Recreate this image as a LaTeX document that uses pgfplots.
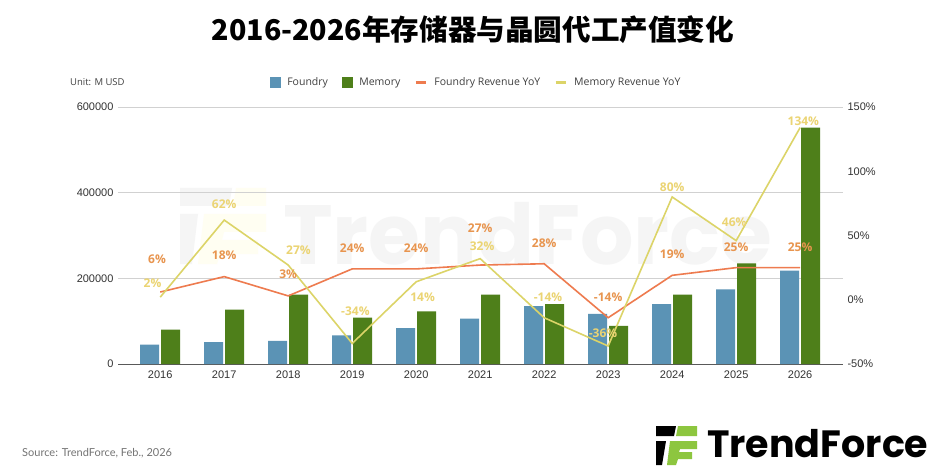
\documentclass[border=0pt]{standalone}
\usepackage{fontspec}
\setmainfont{Open Sans}
\newfontfamily\cjk{Noto Sans CJK SC}
\newfontfamily\lib{Liberation Sans}
\newfontfamily\pop{Poppins}
\newfontfamily\lato{Lato}
\usepackage{pgfplots}
\usepackage{pgfplotstable}
\pgfplotsset{compat=1.18}
\definecolor{fblue}{HTML}{5B93B5}
\definecolor{mgreen}{HTML}{4E7F1A}
\definecolor{fline}{HTML}{EE7B4F}
\definecolor{mline}{HTML}{DCD468}
\definecolor{flab}{HTML}{E8954F}
\definecolor{mlab}{HTML}{EBD473}
\definecolor{logogreen}{HTML}{8DC63F}

\pgfplotstableread{
x f m
0 45000 80000
1 51000 127000
2 54000 162000
3 67000 108000
4 84000 123000
5 106000 162000
6 135000 140000
7 117000 89000
8 140000 162000
9 174000 235000
10 218000 552000
}\bars

\pgfplotstableread{
x f m
0 6 2
1 18 62
2 3 27
3 24 -34
4 24 14
5 27 32
6 28 -14
7 -14 -36
8 19 80
9 25 46
10 25 134
}\yoy

\pgfplotstableread{
x y lab
-0.05 31.9 6
1 34.5 18
2 19.5 3
3 40.5 24
4 40.5 24
5 56 27
6 44.3 28
7 2.3 -14
8 35.8 19
9 41.2 25
10 41.2 25
}\flabels

\pgfplotstableread{
x y lab
-0.12 13.2 2
1 74.7 62
2.16 38.9 27
3.05 -9.3 -34
4.1 2.3 14
5.03 42 32
6.06 2.3 -14
6.92 -25.7 -36
8 87.9 80
8.97 60.7 46
10.05 139.3 134
}\mlabels

\begin{document}
\begin{tikzpicture}
\begin{scope}[x=1pt,y=1pt]
\path[use as bounding box, fill=white] (0,0) rectangle (940,472);
% title
\node[font=\cjk\bfseries\fontsize{28.6}{32}\selectfont, anchor=center, inner sep=0] at (473,442) {2016-2026年存储器与晶圆代工产值变化};
\node[font=\fontsize{9.5}{11}\selectfont, text=black!75, anchor=west, inner sep=0] at (70,390) {Unit: M USD};
% watermark
\node[font=\pop\bfseries\fontsize{84}{90}\selectfont, text=black!4, anchor=west, inner sep=0] at (283,238) {TrendForce};
\fill[black!4] (180,284) -- (232,284) -- (229,266) -- (180,266) -- cycle;
\fill[black!4] (180,258) -- (198,258) -- (192,208) -- (180,208) -- cycle;
\fill[yellow!5] (236,284) -- (266,284) -- (266,266) -- (233,266) -- cycle;
\fill[yellow!5] (204,258) -- (266,258) -- (266,240) -- (224,240) -- (222,232) -- (258,232) -- (258,218) -- (220,218) -- (217,208) -- (198,208) -- cycle;
% source
\node[font=\lato\fontsize{11}{13}\selectfont, text=black!55, anchor=west, inner sep=0] at (22,19) {Source: TrendForce, Feb., 2026};
% logo
\node[font=\pop\bfseries\fontsize{38}{40}\selectfont, anchor=base west, inner sep=0] at (707,15) {TrendForce};
\fill[black] (656,46) -- (676,46) -- (674,36) -- (656,36) -- cycle;
\fill[logogreen] (678,46) -- (697,46) -- (697,36) -- (676,36) -- cycle;
\fill[black] (656,31) -- (666,31) -- (662,7) -- (656,7) -- cycle;
\fill[logogreen] (670,31) -- (697,31) -- (697,23) -- (680,23) -- (679,20) -- (692,20) -- (692,13) -- (678,13) -- (676,7) -- (667,7) -- cycle;
\end{scope}

\begin{axis}[
 at={(118pt,108pt)}, anchor=south west, scale only axis, width=725pt, height=257pt,
 xmin=-0.66, xmax=10.67, ymin=0, ymax=600000,
 xtick={0,...,10}, xticklabels={2016,2017,2018,2019,2020,2021,2022,2023,2024,2025,2026},
 ytick={0,200000,400000,600000},
 scaled y ticks=false,
 yticklabel style={/pgf/number format/fixed, /pgf/number format/1000 sep={}, xshift=-1pt},
 xticklabel style={yshift=-3pt},
 axis x line*=bottom, axis y line*=left,
 x axis line style={black!65, line width=0.9pt},
 y axis line style={draw=none},
 major tick length=0,
 ymajorgrids, grid style={black!18, line width=0.8pt},
 tick label style={font=\lib\fontsize{11}{13}\selectfont, text=black!80},
 /pgf/number format/assume math mode=true,
 ybar, bar width=19pt,
]
\addplot[fill=fblue, draw=none, bar shift=-10.5pt] table[x=x,y=f]{\bars};
\addplot[fill=mgreen, draw=none, bar shift=10.5pt] table[x=x,y=m]{\bars};
\end{axis}

\begin{axis}[
 at={(118pt,108pt)}, anchor=south west, scale only axis, width=725pt, height=257pt,
 xmin=-0.66, xmax=10.67, ymin=-50, ymax=150,
 axis x line=none, axis y line*=right, y axis line style={draw=none},
 ytick={-50,0,50,100,150}, yticklabel={\pgfmathprintnumber{\tick}\%},
 major tick length=0,
 tick label style={font=\lib\fontsize{11}{13}\selectfont, text=black!80},
 yticklabel style={xshift=1pt},
 /pgf/number format/assume math mode=true,
 legend style={draw=none, fill=none, legend columns=4, at={(0.494,1.097)}, anchor=center,
   font=\fontsize{10.5}{12}\selectfont, text=black!75,
   /tikz/every odd column/.append style={column sep=5pt},
   /tikz/every even column/.append style={column sep=12pt}},
 legend cell align=left,
]
\addlegendimage{legend image code/.code={\fill[fblue] (0pt,-5pt) rectangle (10pt,5pt);}}
\addlegendentry{Foundry}
\addlegendimage{legend image code/.code={\fill[mgreen] (0pt,-5pt) rectangle (10pt,5pt);}}
\addlegendentry{Memory}
\addlegendimage{legend image code/.code={\draw[fline, line width=3pt] (0pt,0pt) -- (10pt,0pt);}}
\addlegendentry{Foundry Revenue YoY}
\addlegendimage{legend image code/.code={\draw[mline, line width=3pt] (0pt,0pt) -- (10pt,0pt);}}
\addlegendentry{Memory Revenue YoY}
\addplot[fline, line width=1.6pt, mark=none, forget plot] table[x=x,y=f]{\yoy};
\addplot[mline, line width=1.6pt, mark=none, forget plot] table[x=x,y=m]{\yoy};
\addplot[draw=none, mark=none, forget plot, nodes near coords={\pgfplotspointmeta\%}, nodes near coords align=center,
  point meta=explicit symbolic, every node near coord/.style={font=\bfseries\fontsize{12}{14}\selectfont, text=flab, inner sep=0}]
  table[x=x,y=y,meta=lab]{\flabels};
\addplot[draw=none, mark=none, forget plot, nodes near coords={\pgfplotspointmeta\%}, nodes near coords align=center,
  point meta=explicit symbolic, every node near coord/.style={font=\bfseries\fontsize{12}{14}\selectfont, text=mlab, inner sep=0}]
  table[x=x,y=y,meta=lab]{\mlabels};
\end{axis}
\end{tikzpicture}
\end{document}
